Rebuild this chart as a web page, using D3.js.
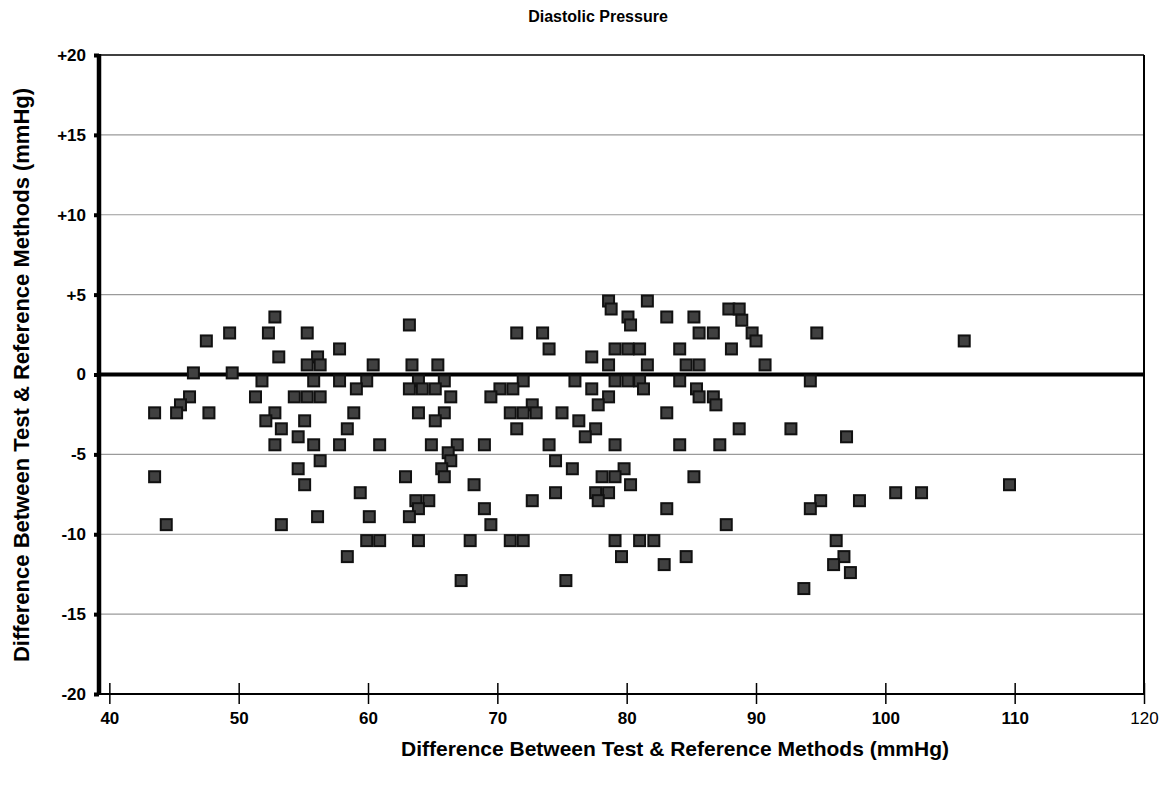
<!DOCTYPE html>
<html>
<head>
<meta charset="utf-8">
<script src="https://cdn.jsdelivr.net/npm/d3@7"></script>
<style>
  html, body { margin: 0; padding: 0; background: #fff; }
  svg text { font-family: "Liberation Sans", Arial, Helvetica, sans-serif; }
</style>
</head>
<body>
<svg id="chart" width="1167" height="790"></svg>
<script>
// ---- Data (difference in mmHg, grouped by y level) ----
const chartTitle = "Diastolic Pressure";
const xAxisTitle = "Difference Between Test & Reference Methods (mmHg)";
const yAxisTitle = "Difference Between Test & Reference Methods (mmHg)";
const xTickValues = [40, 50, 60, 70, 80, 90, 100, 110, 120];
const yTickValues = [-20, -15, -10, -5, 0, 5, 10, 15, 20];
const yGridValues = [-15, -10, -5, 5, 10, 15];

const yLevels = [4.6, 4.1, 3.6, 3.4, 3.1, 2.6, 2.1, 1.6, 1.1, 0.6, 0.1,
  -0.4, -0.9, -1.4, -1.9, -2.4, -2.9, -3.4, -3.9, -4.4, -4.9, -5.4, -5.9,
  -6.4, -6.9, -7.4, -7.9, -8.4, -8.9, -9.4, -10.4, -11.4, -11.9, -12.4, -12.9, -13.4];

const xAtLevel = [
  [78.6, 81.6],
  [78.8, 87.9, 88.7],
  [52.8, 80.1, 83.1, 85.2],
  [88.9],
  [63.2, 80.3],
  [49.3, 52.3, 55.3, 71.5, 73.5, 85.6, 86.7, 89.7, 94.7],
  [47.5, 90.0, 106.1],
  [57.8, 74.0, 79.1, 80.1, 81.0, 84.1, 88.1],
  [53.1, 56.1, 77.3],
  [55.3, 56.3, 60.4, 63.4, 65.4, 78.6, 81.6, 84.6, 85.6, 90.7],
  [46.5, 49.5],
  [51.8, 55.8, 57.8, 59.9, 63.9, 65.9, 72.0, 76.0, 79.1, 80.1, 81.0, 84.1, 94.2],
  [59.1, 63.2, 64.2, 65.2, 70.2, 71.2, 77.3, 81.3, 85.4],
  [46.2, 51.3, 54.3, 55.3, 56.3, 66.4, 69.5, 78.6, 85.6, 86.7],
  [45.5, 72.7, 77.8, 86.9],
  [43.5, 45.2, 47.7, 52.8, 58.9, 63.9, 65.9, 71.0, 72.0, 73.0, 75.0, 83.1],
  [52.1, 55.1, 65.2, 76.3],
  [53.3, 58.4, 71.5, 77.6, 88.7, 92.7],
  [54.6, 76.8, 97.0],
  [52.8, 55.8, 57.8, 60.9, 64.9, 66.9, 69.0, 74.0, 79.1, 84.1, 87.2],
  [66.2],
  [56.3, 66.4, 74.5],
  [54.6, 65.7, 75.8, 79.8],
  [43.5, 62.9, 65.9, 78.1, 79.1, 85.2],
  [55.1, 68.2, 80.3, 109.6],
  [59.4, 74.5, 77.6, 78.6, 100.8, 102.8],
  [63.7, 64.7, 72.7, 77.8, 95.0, 98.0],
  [63.9, 69.0, 83.1, 94.2],
  [56.1, 60.1, 63.2],
  [44.4, 53.3, 69.5, 87.7],
  [59.9, 60.9, 63.9, 67.9, 71.0, 72.0, 79.1, 81.0, 82.1, 96.2],
  [58.4, 79.6, 84.6, 96.8],
  [82.9, 96.0],
  [97.3],
  [67.2, 75.3],
  [93.7]
];

const points = [];
yLevels.forEach((yv, i) => xAtLevel[i].forEach(xv => points.push({ x: xv, y: yv })));

// ---- Layout ----
const svg = d3.select("#chart");
const plotL = 99, plotR = 1144, plotT = 55, plotB = 694;

const x = d3.scaleLinear().domain([39.2, 120]).range([plotL, plotR]);
const y = d3.scaleLinear().domain([-20, 20]).range([plotB, plotT]);

// gridlines
svg.append("g").selectAll("line").data(yGridValues).join("line")
  .attr("x1", plotL).attr("x2", plotR)
  .attr("y1", d => y(d)).attr("y2", d => y(d))
  .attr("stroke", "#9a9a9a").attr("stroke-width", 1.2);

// top & right border
svg.append("line").attr("x1", plotL).attr("x2", plotR).attr("y1", y(20)).attr("y2", y(20))
  .attr("stroke", "#000").attr("stroke-width", 1.5);
svg.append("line").attr("x1", plotR).attr("x2", plotR).attr("y1", y(20)).attr("y2", y(-20))
  .attr("stroke", "#000").attr("stroke-width", 2);

// x axis
const xAxis = d3.axisBottom(x).tickValues(xTickValues).tickSize(0).tickFormat(d3.format("d"));
const gx = svg.append("g").attr("transform", `translate(0,${plotB})`).call(xAxis);
gx.select(".domain").remove();
gx.selectAll(".tick").append("line")
  .attr("y1", -11).attr("y2", 10).attr("stroke", "#000").attr("stroke-width", 1.5);
gx.selectAll(".tick text")
  .attr("dy", 0).attr("y", 30)
  .attr("font-size", 17).attr("font-weight", d => d === 120 ? "normal" : "bold")
  .attr("fill", "#000");
svg.append("line").attr("x1", plotL).attr("x2", plotR).attr("y1", plotB).attr("y2", plotB)
  .attr("stroke", "#000").attr("stroke-width", 2);

// y axis
const yAxis = d3.axisLeft(y).tickValues(yTickValues).tickSize(0)
  .tickFormat(d => d > 0 ? "+" + d : String(d));
const gy = svg.append("g").attr("transform", `translate(${plotL},0)`).call(yAxis);
gy.select(".domain").remove();
gy.selectAll(".tick").append("rect")
  .attr("x", -5).attr("y", -2).attr("width", 5).attr("height", 4).attr("fill", "#000");
gy.selectAll(".tick text")
  .attr("font-size", 17).attr("font-weight", "bold").attr("fill", "#000").attr("x", -13);

// zero line
svg.append("line").attr("x1", plotL).attr("x2", plotR).attr("y1", y(0)).attr("y2", y(0))
  .attr("stroke", "#000").attr("stroke-width", 4);
// thick y axis line
svg.append("line").attr("x1", plotL).attr("x2", plotL).attr("y1", y(20) - 1).attr("y2", y(-20) + 1)
  .attr("stroke", "#000").attr("stroke-width", 4.5);

// points
const s = 11;
svg.append("g").selectAll("rect").data(points).join("rect")
  .attr("x", d => x(d.x) - s / 2).attr("y", d => y(d.y) - s / 2)
  .attr("width", s).attr("height", s)
  .attr("fill", "#404040").attr("stroke", "#111").attr("stroke-width", 2);

// titles
svg.append("text").attr("x", 598).attr("y", 22).attr("text-anchor", "middle")
  .attr("font-size", 16).attr("font-weight", "bold").text(chartTitle);
svg.append("text").attr("x", 675).attr("y", 756).attr("text-anchor", "middle")
  .attr("font-size", 21).attr("font-weight", "bold").text(xAxisTitle);
svg.append("text").attr("transform", "translate(29,375) rotate(-90)").attr("text-anchor", "middle")
  .attr("font-size", 22).attr("font-weight", "bold").text(yAxisTitle);
</script>
</body>
</html>
